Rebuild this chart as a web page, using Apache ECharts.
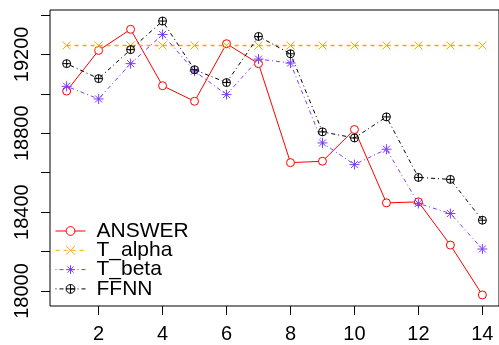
<!DOCTYPE html>
<html>
<head>
<meta charset="utf-8">
<script src="https://cdn.jsdelivr.net/npm/echarts@6/dist/echarts.min.js"></script>
<style>
  html, body { margin: 0; padding: 0; background: #fff; }
  #chart { width: 499px; height: 345px; }
</style>
</head>
<body>
<div id="chart"></div>
<script>
const xValues = [1, 2, 3, 4, 5, 6, 7, 8, 9, 10, 11, 12, 13, 14];
const answer = [19014, 19220, 19327, 19041, 18962, 19254, 19153, 18651, 18658, 18819, 18447, 18452, 18233, 17980];
const tAlpha = [19245, 19245, 19245, 19245, 19245, 19245, 19245, 19245, 19245, 19245, 19245, 19245, 19245, 19245];
const tBeta = [19038, 18974, 19153, 19301, 19115, 18996, 19176, 19156, 18751, 18641, 18719, 18444, 18393, 18213];
const ffnn = [19153, 19077, 19224, 19369, 19122, 19057, 19291, 19203, 18807, 18776, 18883, 18576, 18566, 18359];
const xTicks = [2, 4, 6, 8, 10, 12, 14];
const yTicks = [18000, 18200, 18400, 18600, 18800, 19000, 19200, 19400];
const yLabels = [18000, 18400, 18800, 19200];

const font = "Liberation Sans";
const pts = arr => arr.map((v, i) => [xValues[i], v]);

const xSym = "path://M0,0L10,10M10,0L0,10";
const starSym = "path://M5,0L5,10M0,5L10,5M1.5,1.5L8.5,8.5M8.5,1.5L1.5,8.5";
const oplusSym = "path://M0,5A5,5 0 1 1 10,5A5,5 0 1 1 0,5ZM5,0L5,10M0,5L10,5";

// series look: [name, symbol, size, colour, dash, fill]
const looks = [
  ["ANSWER", "circle", 8, "#ff0000", "solid", "#fff"],
  ["T_alpha", xSym, 8, "#ffa500", [4, 4], "transparent"],
  ["T_beta", starSym, 10, "#7a3cff", [1, 3, 4, 3], "transparent"],
  ["FFNN", oplusSym, 8, "#000000", [1, 3, 4, 3], "transparent"]
];
const values = [answer, tAlpha, tBeta, ffnn];

const chart = echarts.init(document.getElementById("chart"), null, { renderer: "canvas" });

chart.setOption({
  animation: false,
  backgroundColor: "#fff",
  grid: {
    left: 50, top: 10, width: 451.5, height: 296,
    show: true, borderColor: "#000", borderWidth: 1, backgroundColor: "transparent"
  },
  legend: {
    orient: "vertical",
    left: 50, top: 215.5,
    itemWidth: 30, itemHeight: 11, itemGap: -1.7,
    textStyle: { fontFamily: font, fontSize: 21, color: "#000", padding: [0, 0, 0, 6] },
    data: looks.map(l => ({
      name: l[0],
      itemStyle: { color: l[5], borderColor: l[3], borderWidth: 1 },
      lineStyle: { color: l[3], width: 1, type: l[4] }
    }))
  },
  xAxis: {
    type: "value", min: 0.48, max: 14.52,
    axisLine: { show: false },
    splitLine: { show: false },
    axisTick: { show: true, length: 9, customValues: xTicks, lineStyle: { color: "#000" } },
    axisLabel: { customValues: xTicks, fontFamily: font, fontSize: 20, color: "#000", margin: 18 }
  },
  yAxis: {
    type: "value", min: 17924, max: 19425,
    axisLine: { show: false },
    splitLine: { show: false },
    axisTick: { show: true, length: 9, customValues: yTicks, lineStyle: { color: "#000" } },
    axisLabel: {
      customValues: yLabels, rotate: 90, fontFamily: font, fontSize: 20, color: "#000", margin: 18,
      formatter: v => String(v)
    }
  },
  series: looks.map((l, i) => ({
    name: l[0], type: "line", data: pts(values[i]),
    symbol: l[1], symbolSize: l[2],
    lineStyle: { color: l[3], width: l[0] === "T_alpha" ? 1.3 : 1, type: l[4] },
    itemStyle: { color: l[5], borderColor: l[3], borderWidth: 1 },
    emphasis: { disabled: true }
  }))
});
</script>
</body>
</html>
